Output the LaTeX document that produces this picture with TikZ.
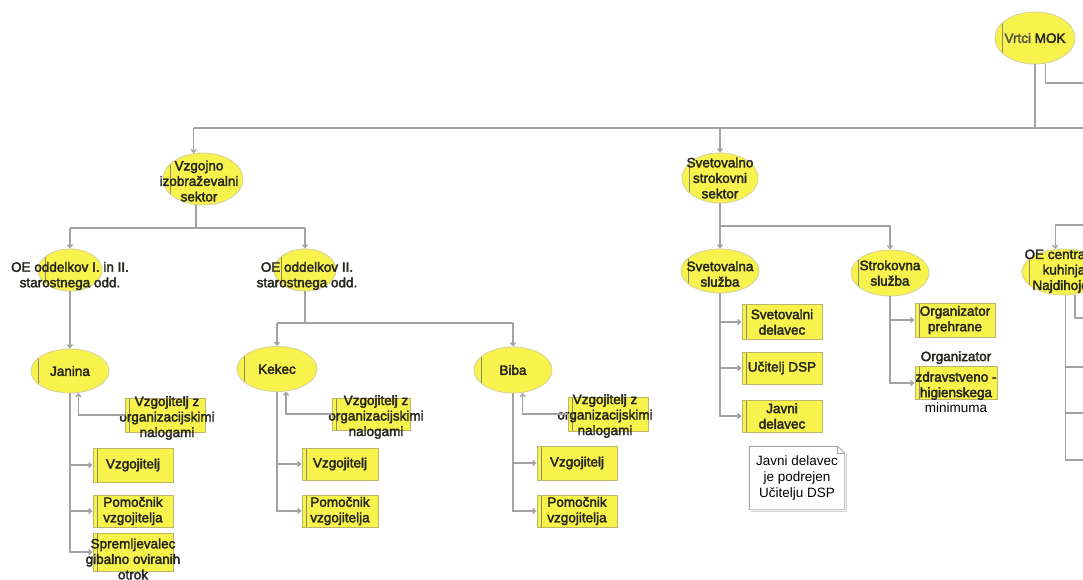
\documentclass[tikz,border=0pt]{standalone}
\usepackage{fontspec}
\setmainfont{Liberation Sans}
\newfontfamily\heavy[FakeBold=2.6]{Liberation Sans}
\usetikzlibrary{shapes.geometric, arrows.meta}
\definecolor{yel}{HTML}{F8F34C}
\definecolor{ellb}{HTML}{D8D39A}
\definecolor{boxb}{HTML}{BDB66A}
\definecolor{lftl}{HTML}{8C8A6A}
\definecolor{conn}{HTML}{A3A3A3}
\definecolor{txtc}{HTML}{26261F}
\definecolor{txtg}{HTML}{55554A}
\definecolor{noteb}{HTML}{A8A8A8}
\begin{document}
\begin{tikzpicture}[x=1pt, y=-1pt,
  line/.style={draw=conn, line width=1.3pt},
  arr/.style={line, -{Straight Barb[length=3pt,width=5pt]}},
  ell/.style={ellipse, draw=ellb, fill=yel, line width=0.9pt, inner sep=0pt,
    path picture={\draw[lftl, line width=0.6pt] ([xshift=7pt]path picture bounding box.north west) -- ([xshift=7pt]path picture bounding box.south west);}},
  ybox/.style={rectangle, draw=boxb, fill=yel, line width=0.9pt, inner sep=0pt,
    minimum width=80pt, minimum height=34pt,
    path picture={\draw[lftl, line width=0.6pt] ([xshift=4pt]path picture bounding box.north west) -- ([xshift=4pt]path picture bounding box.south west);}},
  txt/.style={font=\heavy\fontsize{13.5}{15.5}\selectfont, text=txtc, align=center, inner sep=0pt},
  notetxt/.style={font=\fontsize{13.5}{16}\selectfont, text=black, align=center, inner sep=0pt,
    minimum width=95pt, minimum height=63pt},
]
\useasboundingbox (0,0) rectangle (1083,579);
\clip (0,0) rectangle (1083,579);
\fill[white] (0,0) rectangle (1083,579);

% ---------- nodes ----------
\node[ell, minimum width=80pt, minimum height=52pt,
  label={[txt]center:{\textcolor{txtg}{Vrtci} MOK}}] (mok) at (1035,38) {};
\node[ell, minimum width=80pt, minimum height=52pt,
  label={[txt, xshift=-4pt, yshift=-2pt]center:{Vzgojno\\izobraževalni\\sektor}}] (vz) at (203,179) {};
\node[ell, minimum width=64pt, minimum height=42pt,
  label={[txt, yshift=-6pt]center:{OE oddelkov I. in II.\\starostnega odd.}}] (oe1) at (70,270) {};
\node[ell, minimum width=62pt, minimum height=42pt,
  label={[txt, xshift=2pt, yshift=-6pt]center:{OE oddelkov II.\\starostnega odd.}}] (oe2) at (305,270) {};
\node[ell, minimum width=76pt, minimum height=50pt,
  label={[txt]center:{Svetovalno\\strokovni\\sektor}}] (sss) at (720,178) {};
\node[ell, minimum width=78pt, minimum height=44pt,
  label={[txt, yshift=-3pt]center:{Svetovalna\\služba}}] (svs) at (720,271) {};
\node[ell, minimum width=78pt, minimum height=46pt,
  label={[txt]center:{Strokovna\\služba}}] (sts) at (890,273) {};
\node[ell, minimum width=84pt, minimum height=46pt,
  label={[txt, yshift=1pt]center:{OE centralna\\kuhinja\\Najdihojca}}] (oec) at (1064,272) {};

\node[ell, minimum width=78pt, minimum height=44pt,
  label={[txt]center:{Janina}}] (jan) at (70,371) {};
\node[ell, minimum width=80pt, minimum height=45pt,
  label={[txt]center:{Kekec}}] (kek) at (277,369) {};
\node[ell, minimum width=78pt, minimum height=46pt,
  label={[txt]center:{Biba}}] (bib) at (513,370) {};

% Janina group
\node[ybox, label={[txt, xshift=2pt, yshift=-3pt]center:{Vzgojitelj z\\organizacijskimi\\nalogami}}] (jo) at (165,415) {};
\node[ybox, label={[txt]center:{Vzgojitelj}}] (jv) at (133,465) {};
\node[ybox, minimum height=32pt, label={[txt]center:{Pomočnik\\vzgojitelja}}] (jp) at (133,511) {};
\node[ybox, minimum height=38pt, label={[txt, yshift=-7pt]center:{Spremljevalec\\gibalno oviranih\\otrok}}] (js) at (133,552) {};

% Kekec group
\node[ybox, minimum width=78pt, minimum height=32pt, label={[txt, xshift=5pt, yshift=-3pt]center:{Vzgojitelj z\\organizacijskimi\\nalogami}}] (ko) at (371,414) {};
\node[ybox, minimum width=76pt, minimum height=32pt, label={[txt]center:{Vzgojitelj}}] (kv) at (340,464) {};
\node[ybox, minimum width=76pt, minimum height=32pt, label={[txt]center:{Pomočnik\\vzgojitelja}}] (kp) at (340,511) {};

% Biba group
\node[ybox, label={[txt, xshift=-3pt, yshift=-2pt]center:{Vzgojitelj z\\organizacijskimi\\nalogami}}] (bo) at (608,414) {};
\node[ybox, label={[txt]center:{Vzgojitelj}}] (bv) at (577,463) {};
\node[ybox, minimum height=32pt, label={[txt]center:{Pomočnik\\vzgojitelja}}] (bp) at (577,511) {};

% Svetovalna sluzba group
\node[ybox, minimum height=35pt, label={[txt]center:{Svetovalni\\delavec}}] (svd) at (782,322) {};
\node[ybox, minimum height=32pt, label={[txt]center:{Učitelj DSP}}] (uc) at (782,368) {};
\node[ybox, minimum height=32pt, label={[txt]center:{Javni\\delavec}}] (jd) at (782,416) {};

% note
\node[notetxt] (note) at (797,478) {Javni delavec\\je podrejen\\Učitelju DSP};
\draw[noteb!50, line width=1pt]
  ([xshift=2pt]note.south west) ++(0,2) -- ([xshift=2pt,yshift=-2pt]note.south east) -- ([xshift=2pt,yshift=-8pt]note.north east);
\draw[noteb, line width=0.9pt]
  (note.south west) -- (note.north west) -- ([xshift=-7pt]note.north east)
  -- ([yshift=-7pt]note.north east) -- (note.south east) -- cycle;
\draw[noteb, line width=0.7pt] ([xshift=-7pt]note.north east) -- ([xshift=-7pt,yshift=-7pt]note.north east) -- ([yshift=-7pt]note.north east);

% Strokovna sluzba group
\node[ybox, minimum height=34pt, label={[txt]center:{Organizator\\prehrane}}] (opr) at (955,320) {};
\node[ybox, minimum width=82pt, minimum height=33pt,
  label={[txt, yshift=1pt]center:{Organizator\\[5pt]zdravstveno -\\higienskega\\{\normalfont\color{black}minimuma}}}] (ozh) at (956,383) {};

% ---------- connectors ----------
\coordinate (busy) at (0,128);
\coordinate (edgeR) at (1083,0);
\coordinate (mokr) at (0,83);
\draw[line] (mok.south) -- (mok.south |- busy);
\draw[line] (mok.292) |- (edgeR |- mokr);
\draw[line] (vz.110 |- busy) -- (edgeR |- busy);
\draw[arr] (vz.110 |- busy) -- (vz.110);
\draw[arr] (sss.north |- busy) -- (sss.north);

\coordinate (j1) at (0,228);
\draw[line] (vz.255) -- (vz.255 |- j1);
\draw[line] (oe1.north |- j1) -- (oe2.north |- j1);
\draw[arr] (oe1.north |- j1) -- (oe1.north);
\draw[arr] (oe2.north |- j1) -- (oe2.north);
\draw[arr] (oe1.south) -- (jan.north);

\coordinate (j2) at (0,323);
\draw[line] (oe2.south) -- (oe2.south |- j2);
\draw[line] (kek.north |- j2) -- (bib.north |- j2);
\draw[arr] (kek.north |- j2) -- (kek.north);
\draw[arr] (bib.north |- j2) -- (bib.north);

\draw[arr] (jan.south) |- (js.west);
\draw[arr] (jan.south |- jv.west) -- (jv.west);
\draw[arr] (jan.south |- jp.west) -- (jp.west);
\draw[arr] (jo.west) -| (jan.291);

\draw[arr] (kek.south) |- (kp.west);
\draw[arr] (kek.south |- kv.west) -- (kv.west);
\draw[arr] (ko.west) -| (kek.292);

\draw[arr] (bib.south) |- (bp.west);
\draw[arr] (bib.south |- bv.west) -- (bv.west);
\draw[arr] (bo.west) -| (bib.293);

\coordinate (j3) at (0,226);
\draw[arr] (sss.south) -- (svs.north);
\draw[arr] (sss.south |- j3) -| (sts.north);
\draw[arr] (svs.south) |- (jd.west);
\draw[arr] (svs.south |- svd.west) -- (svd.west);
\draw[arr] (svs.south |- uc.west) -- (uc.west);
\draw[arr] (sts.south) |- (ozh.west);
\draw[arr] (sts.south |- opr.west) -- (opr.west);

\coordinate (j4) at (1083,225);
\coordinate (ob0) at (0,318);
\coordinate (ob1) at (0,367);
\coordinate (ob2) at (0,413);
\coordinate (ob3) at (0,460);
\draw[arr] (j4) -| (oec.111);
\draw[line] (oec.274) |- (edgeR |- ob3);
\draw[line] (oec.274 |- ob1) -- (edgeR |- ob1);
\draw[line] (oec.274 |- ob2) -- (edgeR |- ob2);
\draw[line] (oec.296) |- (edgeR |- ob0);
\end{tikzpicture}
\end{document}
